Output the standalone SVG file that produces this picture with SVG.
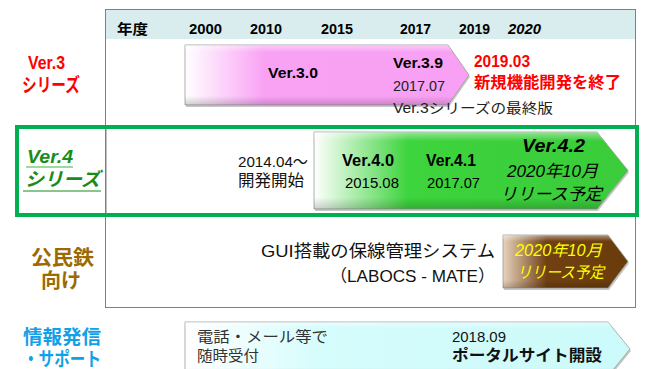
<svg xmlns="http://www.w3.org/2000/svg" width="645" height="369" viewBox="0 0 645 369">
<style>
text{font-family:"Liberation Sans","Noto Sans CJK JP",sans-serif;}
.hd{font-size:14px;font-weight:bold;fill:#000;}
.b{font-weight:bold;}
.it{font-style:italic;}
.red{fill:#ff0000;}
.arrow{stroke:#9a9a9a;stroke-width:0.8;}
.shadow{fill:#000;opacity:0.22;}
</style>
<defs>
<linearGradient id="gPink" x1="0" y1="0" x2="1" y2="0">
<stop offset="0" stop-color="#ffffff"/>
<stop offset="0.28" stop-color="#f9a2f4"/>
<stop offset="1" stop-color="#f8a0f3"/>
</linearGradient>
<linearGradient id="gGreen" x1="0" y1="0" x2="1" y2="0">
<stop offset="0" stop-color="#ffffff"/>
<stop offset="0.3" stop-color="#3dd43d"/>
<stop offset="1" stop-color="#3acc3a"/>
</linearGradient>
<linearGradient id="gBrown" x1="0" y1="0" x2="1" y2="0">
<stop offset="0" stop-color="#e8d2bc"/>
<stop offset="0.35" stop-color="#704011"/>
<stop offset="1" stop-color="#6a3c0c"/>
</linearGradient>
<linearGradient id="gCyan" x1="0" y1="0" x2="1" y2="0">
<stop offset="0" stop-color="#ffffff"/>
<stop offset="0.3" stop-color="#d6fcfc"/>
<stop offset="1" stop-color="#ccfafa"/>
</linearGradient>
<linearGradient id="gBevel" x1="0" y1="0" x2="0" y2="1">
<stop offset="0" stop-color="#ffffff" stop-opacity="0.45"/>
<stop offset="0.12" stop-color="#ffffff" stop-opacity="0"/>
<stop offset="0.85" stop-color="#000000" stop-opacity="0"/>
<stop offset="1" stop-color="#000000" stop-opacity="0.18"/>
</linearGradient>
</defs>

<g id="frame">
<rect x="105.5" y="9.5" width="530" height="298" fill="#ffffff" stroke="#808080" stroke-width="1"/>
<rect x="106" y="10" width="529" height="29" fill="#d9ecee"/>
<line x1="106" y1="39" x2="635" y2="39" stroke="#ffffff" stroke-width="0"/>
</g>

<g id="header">
<text class="hd" x="117" y="34" textLength="31" lengthAdjust="spacingAndGlyphs">年度</text>
<text class="hd" x="189" y="34" textLength="33" lengthAdjust="spacingAndGlyphs">2000</text>
<text class="hd" x="250" y="34" textLength="32" lengthAdjust="spacingAndGlyphs">2010</text>
<text class="hd" x="321" y="34" textLength="32" lengthAdjust="spacingAndGlyphs">2015</text>
<text class="hd" x="400" y="34" textLength="31" lengthAdjust="spacingAndGlyphs">2017</text>
<text class="hd" x="459" y="34" textLength="31" lengthAdjust="spacingAndGlyphs">2019</text>
<text class="hd it" x="508" y="34" textLength="33" lengthAdjust="spacingAndGlyphs">2020</text>
</g>

<g id="label-ver3">
<text class="b red" x="28" y="69" font-size="18" textLength="37" lengthAdjust="spacingAndGlyphs">Ver.3</text>
<text class="b red" x="22" y="92" font-size="19" textLength="58" lengthAdjust="spacingAndGlyphs">シリーズ</text>
</g>

<g id="ver3-arrow">
<path class="shadow" d="M186,47 L449,47 L470,77 L449,107 L186,107 Z"/>
<path class="arrow" d="M185,45 L448,45 L469,75 L448,105 L185,105 Z" fill="url(#gPink)"/>
<path d="M185,45 L448,45 L469,75 L448,105 L185,105 Z" fill="url(#gBevel)"/>
<text class="b" x="268" y="78" font-size="15" textLength="50" lengthAdjust="spacingAndGlyphs">Ver.3.0</text>
<text class="b" x="393" y="68" font-size="15" textLength="50" lengthAdjust="spacingAndGlyphs">Ver.3.9</text>
<text x="393" y="91" font-size="14.5" fill="#222" textLength="52" lengthAdjust="spacingAndGlyphs">2017.07</text>
</g>

<g id="ver3-end">
<text class="b red" x="474" y="67" font-size="16" textLength="56" lengthAdjust="spacingAndGlyphs">2019.03</text>
<text class="b red" x="474" y="88" font-size="16" textLength="147" lengthAdjust="spacingAndGlyphs">新規機能開発を終了</text>
<text x="393" y="113" font-size="14" fill="#222" textLength="160" lengthAdjust="spacingAndGlyphs">Ver.3シリーズの最終版</text>
</g>

<g id="ver4-box">
<line x1="106" y1="125" x2="106" y2="217" stroke="#808080" stroke-width="1"/>
<rect x="17" y="127" width="620" height="88" fill="none" stroke="#00b050" stroke-width="4"/>
</g>

<g id="label-ver4">
<text class="b it" x="27" y="163" font-size="18" fill="#1a8c1a" textLength="46" lengthAdjust="spacingAndGlyphs">Ver.4</text>
<line x1="26" y1="167" x2="73" y2="167" stroke="#7ccf7c" stroke-width="1.5"/>
<text class="b it" x="25" y="186" font-size="19" fill="#1a8c1a" textLength="75" lengthAdjust="spacingAndGlyphs">シリーズ</text>
<line x1="23" y1="191" x2="101" y2="191" stroke="#1a8c1a" stroke-width="1.2"/>
</g>

<g id="ver4-start">
<text x="308" y="167" font-size="15" text-anchor="end" fill="#111" textLength="70" lengthAdjust="spacingAndGlyphs">2014.04～</text>
<text x="304" y="186" font-size="16" text-anchor="end" fill="#111" textLength="66" lengthAdjust="spacingAndGlyphs">開発開始</text>
</g>

<g id="ver4-arrow">
<path class="shadow" d="M315,134 L598,134 L629,172.5 L598,211 L315,211 Z"/>
<path class="arrow" d="M314,132 L597,132 L628,170.5 L597,209 L314,209 Z" fill="url(#gGreen)"/>
<path d="M314,132 L597,132 L628,170.5 L597,209 L314,209 Z" fill="url(#gBevel)"/>
<text class="b" x="342" y="166" font-size="16" textLength="52" lengthAdjust="spacingAndGlyphs">Ver.4.0</text>
<text x="345" y="188" font-size="15" textLength="54" lengthAdjust="spacingAndGlyphs">2015.08</text>
<text class="b" x="426" y="166" font-size="16" textLength="50" lengthAdjust="spacingAndGlyphs">Ver.4.1</text>
<text x="427" y="188" font-size="15" textLength="53" lengthAdjust="spacingAndGlyphs">2017.07</text>
<text class="b it" x="522" y="152" font-size="19" textLength="63" lengthAdjust="spacingAndGlyphs">Ver.4.2</text>
<text class="it" x="507" y="177" font-size="17" textLength="91" lengthAdjust="spacingAndGlyphs">2020年10月</text>
<text class="it" x="500" y="200" font-size="17" textLength="102" lengthAdjust="spacingAndGlyphs">リリース予定</text>
</g>

<g id="label-koumin">
<text class="b" x="31" y="265" font-size="20" fill="#9c6a00" textLength="63" lengthAdjust="spacingAndGlyphs">公民鉄</text>
<text class="b" x="41" y="288" font-size="20" fill="#9c6a00" textLength="40" lengthAdjust="spacingAndGlyphs">向け</text>
</g>

<g id="labocs">
<text x="495" y="257" font-size="17" text-anchor="end" fill="#111" textLength="234" lengthAdjust="spacingAndGlyphs">GUI搭載の保線管理システム</text>
<text x="495" y="282" font-size="17" text-anchor="end" fill="#111" textLength="165" lengthAdjust="spacingAndGlyphs">（LABOCS - MATE）</text>
</g>

<g id="labocs-arrow">
<path class="shadow" d="M504,237 L609,237 L629,263.5 L609,290 L504,290 Z"/>
<path class="arrow" d="M503,235 L608,235 L628,261.5 L608,288 L503,288 Z" fill="url(#gBrown)"/>
<path d="M503,235 L608,235 L628,261.5 L608,288 L503,288 Z" fill="url(#gBevel)"/>
<text class="it" x="515" y="256" font-size="16" fill="#ffff00" textLength="87" lengthAdjust="spacingAndGlyphs">2020年10月</text>
<text class="it" x="517" y="278" font-size="16" fill="#ffff00" textLength="87" lengthAdjust="spacingAndGlyphs">リリース予定</text>
</g>

<g id="label-support">
<text class="b" x="23" y="344" font-size="19" fill="#12a0e6" textLength="78" lengthAdjust="spacingAndGlyphs">情報発信</text>
<text class="b" x="23" y="366" font-size="19" fill="#12a0e6" textLength="78" lengthAdjust="spacingAndGlyphs">・サポート</text>
</g>

<g id="support-arrow">
<path class="shadow" d="M186,324 L609,324 L631,351 L609,378 L186,378 Z"/>
<path class="arrow" d="M185,322 L608,322 L630,349 L608,376 L185,376 Z" fill="url(#gCyan)"/>
<path d="M185,322 L608,322 L630,349 L608,376 L185,376 Z" fill="url(#gBevel)"/>
<text x="197" y="342" font-size="15" fill="#333" textLength="131" lengthAdjust="spacingAndGlyphs">電話・メール等で</text>
<text x="197" y="361" font-size="15" fill="#333" textLength="62" lengthAdjust="spacingAndGlyphs">随時受付</text>
<text x="452" y="342" font-size="15" fill="#111" textLength="54" lengthAdjust="spacingAndGlyphs">2018.09</text>
<text class="b" x="452" y="361" font-size="16" fill="#111" textLength="150" lengthAdjust="spacingAndGlyphs">ポータルサイト開設</text>
</g>
</svg>
